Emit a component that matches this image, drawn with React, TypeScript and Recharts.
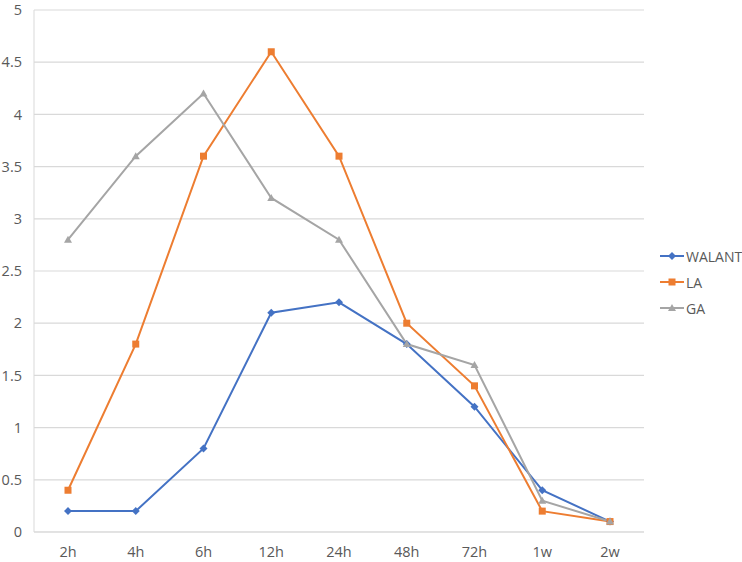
import React from "react";
import { LineChart, Line, XAxis, YAxis, CartesianGrid } from "recharts";

const categories = ["2h", "4h", "6h", "12h", "24h", "48h", "72h", "1w", "2w"];
const walant = [0.2, 0.2, 0.8, 2.1, 2.2, 1.8, 1.2, 0.4, 0.1];
const la = [0.4, 1.8, 3.6, 4.6, 3.6, 2.0, 1.4, 0.2, 0.1];
const ga = [2.8, 3.6, 4.2, 3.2, 2.8, 1.8, 1.6, 0.3, 0.1];
const yTicks = [0, 0.5, 1, 1.5, 2, 2.5, 3, 3.5, 4, 4.5, 5];

const data = categories.map((c, i) => ({ name: c, WALANT: walant[i], LA: la[i], GA: ga[i] }));

const FONT = "'Open Sans', 'Noto Sans', sans-serif";
const TICK = { fill: "#595959", fontSize: 14.5, fontFamily: FONT };

type Shape = "diamond" | "square" | "triangle";

function marker(shape: Shape, color: string, cx: number, cy: number, key?: string | number) {
  if (shape === "diamond") {
    return <path key={key} d={`M${cx},${cy - 4} L${cx + 4},${cy} L${cx},${cy + 4} L${cx - 4},${cy} Z`} fill={color} />;
  }
  if (shape === "square") {
    return <rect key={key} x={cx - 3.5} y={cy - 3.5} width={7} height={7} fill={color} />;
  }
  return <path key={key} d={`M${cx},${cy - 4} L${cx + 4},${cy + 3} L${cx - 4},${cy + 3} Z`} fill={color} />;
}

const SERIES: { key: string; color: string; shape: Shape }[] = [
  { key: "WALANT", color: "#4472C4", shape: "diamond" },
  { key: "LA", color: "#ED7D31", shape: "square" },
  { key: "GA", color: "#A5A5A5", shape: "triangle" },
];

export default function App() {
  return (
    <div style={{ position: "absolute", left: 0, top: 0, width: 742, height: 562, background: "#fff" }}>
      <LineChart width={742} height={562} data={data} margin={{ top: 10, right: 98, bottom: 0, left: 0 }}>
        <CartesianGrid vertical={false} stroke="#d9d9d9" strokeWidth={1.2} />
        <XAxis
          dataKey="name"
          height={30}
          padding={{ left: 34, right: 34 }}
          tick={TICK}
          tickLine={false}
          axisLine={{ stroke: "#d9d9d9" }}
          tickMargin={9}
        />
        <YAxis
          domain={[0, 5]}
          ticks={yTicks}
          width={34}
          tick={TICK}
          tickLine={false}
          axisLine={{ stroke: "#d9d9d9" }}
          tickMargin={6}
          interval={0}
        />
        {SERIES.map((s) => (
          <Line
            key={s.key}
            type="linear"
            dataKey={s.key}
            stroke={s.color}
            strokeWidth={2}
            isAnimationActive={false}
            dot={(p: any) => marker(s.shape, s.color, p.cx, p.cy, `${s.key}-${p.index}`)}
            activeDot={false}
          />
        ))}
      </LineChart>
      <div style={{ position: "absolute", left: 660, top: 243, fontFamily: FONT, fontSize: 14, color: "#595959" }}>
        {SERIES.map((s) => (
          <div key={s.key} style={{ display: "flex", alignItems: "center", height: 26 }}>
            <svg width={24} height={10} style={{ marginRight: 2 }}>
              <line x1={0} y1={5} x2={24} y2={5} stroke={s.color} strokeWidth={2} />
              {marker(s.shape, s.color, 12, 5)}
            </svg>
            <span>{s.key}</span>
          </div>
        ))}
      </div>
    </div>
  );
}
